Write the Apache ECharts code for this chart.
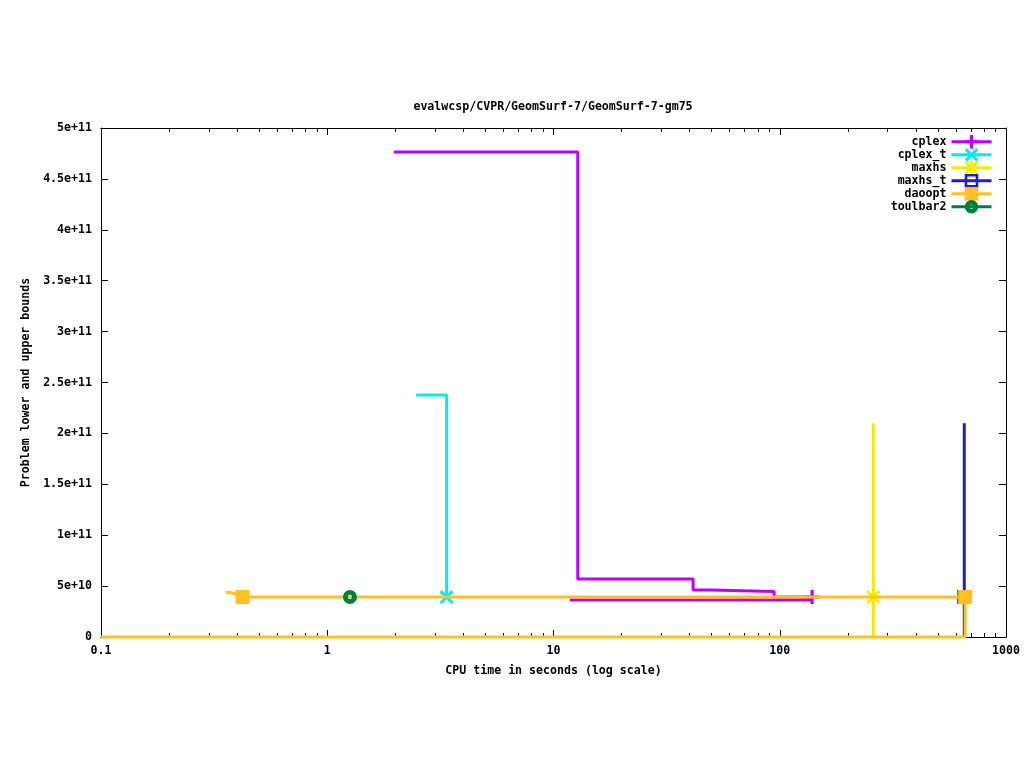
<!DOCTYPE html>
<html>
<head>
<meta charset="utf-8">
<script src="https://cdn.jsdelivr.net/npm/echarts@6/dist/echarts.min.js"></script>
<style>html,body{margin:0;padding:0;background:#fff}#c{width:1024px;height:768px}</style>
</head>
<body>
<div id="c"></div>
<script>
// ---- data (CPU time in seconds, bound value) ----
var cplexUbTime = [1.97, 12.8, 41.4, 50.1, 94.4, 139];
var cplexUbVal  = [4.764e11, 5.70e10, 4.62e10, 4.47e10, 3.93e10, 3.93e10];
var cplexLbTime = [11.8, 139];
var cplexLbVal  = [3.63e10, 3.63e10];
var cplexMarkTime = [139];
var cplexMarkVal  = [3.93e10];

var cplexTUbTime = [2.47, 3.37];
var cplexTUbVal  = [2.377e11, 3.93e10];
var cplexTMarkTime = [3.37];
var cplexTMarkVal  = [3.93e10];

var maxhsUbTime = [259, 259];
var maxhsUbVal  = [2.10e11, 3.93e10];
var maxhsLbTime = [259, 259];
var maxhsLbVal  = [0, 3.93e10];
var maxhsMarkTime = [259];
var maxhsMarkVal  = [3.93e10];

var maxhsTUbTime = [654, 654];
var maxhsTUbVal  = [2.10e11, 3.93e10];
var maxhsTLbTime = [654, 654];
var maxhsTLbVal  = [0, 3.93e10];
var maxhsTMarkTime = [654];
var maxhsTMarkVal  = [3.93e10];

var daooptUbTime = [0.355, 0.37, 0.40, 660];
var daooptUbVal  = [4.37e10, 4.20e10, 3.93e10, 3.93e10];
var daooptLbTime = [0.1, 660];
var daooptLbVal  = [0, 3.93e10];
var daooptMarkTime = [0.422, 660];
var daooptMarkVal  = [3.93e10, 3.93e10];

var toulbar2MarkTime = [1.26];
var toulbar2MarkVal  = [3.93e10];

var xMajorTicks = [0.1, 1, 10, 100, 1000];
var xMinorTicks = [0.2,0.3,0.4,0.5,0.6,0.7,0.8,0.9, 2,3,4,5,6,7,8,9, 20,30,40,50,60,70,80,90, 200,300,400,500,600,700,800,900];

var solverNames = ['cplex', 'cplex_t', 'maxhs', 'maxhs_t', 'daoopt', 'toulbar2'];
var solverColors = ['#c000ff', '#00eeee', '#eeee00', '#2020c0', '#ffc020', '#008040'];

// ---- symbols (gnuplot point types) ----
var SYM = {
  plus: 'path://M5,0H8V5H13V8H8V13H5V8H0V5H5Z',
  cross: 'path://M0,2L2,0L6.5,4.5L11,0L13,2L8.5,6.5L13,11L11,13L6.5,8.5L2,13L0,11L4.5,6.5Z',
  star: 'path://M5.25,0H7.75V5.25H13V7.75H7.75V13H5.25V7.75H0V5.25H5.25Z M0,1.8L1.8,0L6.5,4.7L11.2,0L13,1.8L8.3,6.5L13,11.2L11.2,13L6.5,8.3L1.8,13L0,11.2L4.7,6.5Z',
  box: 'path://M0,0H13V13H0Z M2.5,2.5V10.5H10.5V2.5Z',
  fbox: 'rect',
  ring: 'path://M6.5,0A6.5,6.5,0,1,1,6.5,13A6.5,6.5,0,1,1,6.5,0Z M6.5,4.5A2,2,0,1,0,6.5,8.5A2,2,0,1,0,6.5,4.5Z'
};
var solverSymbols = [SYM.plus, SYM.cross, SYM.star, SYM.box, SYM.fbox, SYM.ring];

function pairs(t, v) { return t.map(function (x, i) { return [x, v[i]]; }); }

var FONT = 'DejaVu Sans Mono';
var FS = 11.6;

function lineSeries(idx, t, v) {
  return {
    type: 'line', name: solverNames[idx], data: pairs(t, v),
    xAxisIndex: 0, yAxisIndex: 0,
    step: 'end', symbol: solverSymbols[idx], symbolSize: 13, showSymbol: false,
    clip: false, silent: true,
    lineStyle: { color: solverColors[idx], width: 3 },
    itemStyle: { color: solverColors[idx] },
    z: 2 + idx
  };
}
function markSeries(idx, t, v) {
  return {
    type: 'scatter', name: solverNames[idx], data: pairs(t, v),
    xAxisIndex: 0, yAxisIndex: 0,
    symbol: solverSymbols[idx], symbolSize: 14, clip: false, silent: true,
    itemStyle: { color: solverColors[idx], opacity: 1 },
    z: 2 + idx
  };
}

var series = [
  lineSeries(0, cplexUbTime, cplexUbVal),
  lineSeries(0, cplexLbTime, cplexLbVal),
  markSeries(0, cplexMarkTime, cplexMarkVal),
  lineSeries(1, cplexTUbTime, cplexTUbVal),
  markSeries(1, cplexTMarkTime, cplexTMarkVal),
  lineSeries(2, maxhsUbTime, maxhsUbVal),
  lineSeries(2, maxhsLbTime, maxhsLbVal),
  markSeries(2, maxhsMarkTime, maxhsMarkVal),
  lineSeries(3, maxhsTUbTime, maxhsTUbVal),
  lineSeries(3, maxhsTLbTime, maxhsTLbVal),
  markSeries(3, maxhsTMarkTime, maxhsTMarkVal),
  lineSeries(4, daooptUbTime, daooptUbVal),
  lineSeries(4, daooptLbTime, daooptLbVal),
  markSeries(4, daooptMarkTime, daooptMarkVal),
  lineSeries(5, toulbar2MarkTime, toulbar2MarkVal),
  markSeries(5, toulbar2MarkTime, toulbar2MarkVal)
];

function xAxisDef(pos, ticks, len, showLabel, showName) {
  return {
    type: 'log', logBase: 10, min: 0.1, max: 1000, position: pos,
    name: showName ? 'CPU time in seconds (log scale)' : '',
    nameLocation: 'middle', nameGap: 28,
    nameTextStyle: { fontFamily: FONT, fontSize: FS, fontWeight: 'bold', color: '#000' },
    axisLine: { show: true, onZero: false, lineStyle: { color: '#000', width: 1 } },
    axisTick: { show: true, inside: true, length: len, customValues: ticks, lineStyle: { color: '#000', width: 1 } },
    axisLabel: { show: showLabel, customValues: xMajorTicks, margin: 8, fontFamily: FONT, fontSize: FS, fontWeight: 'bold', color: '#000',
      formatter: function (v) { return String(+(+v).toPrecision(6)); } },
    splitLine: { show: false }, minorTick: { show: false }
  };
}
function yAxisDef(pos, showLabel, showName) {
  return {
    type: 'value', min: 0, max: 5e11, interval: 5e10, position: pos,
    name: showName ? 'Problem lower and upper bounds' : '',
    nameLocation: 'middle', nameGap: 69, nameRotate: 90,
    nameTextStyle: { fontFamily: FONT, fontSize: FS, fontWeight: 'bold', color: '#000' },
    axisLine: { show: true, onZero: false, lineStyle: { color: '#000', width: 1 } },
    axisTick: { show: true, inside: true, length: 7, lineStyle: { color: '#000', width: 1 } },
    axisLabel: { show: showLabel, margin: 9, fontFamily: FONT, fontSize: FS, fontWeight: 'bold', color: '#000',
      formatter: function (v) { return v === 0 ? '0' : (+v).toExponential(); } },
    splitLine: { show: false }
  };
}

var chart = echarts.init(document.getElementById('c'), null, { renderer: 'canvas' });
chart.setOption({
  animation: false,
  backgroundColor: '#fff',
  title: {
    text: 'evalwcsp/CVPR/GeomSurf-7/GeomSurf-7-gm75',
    left: 553, top: 101, textAlign: 'center', padding: 0,
    textStyle: { fontFamily: FONT, fontSize: FS, fontWeight: 'bold', color: '#000' }
  },
  grid: { left: 101, right: 18, top: 128, bottom: 131, containLabel: false },
  legend: {
    data: solverNames, orient: 'vertical', align: 'right',
    right: 31, top: 135, itemWidth: 40, itemHeight: 17, itemGap: -0.6,
    selectedMode: false, padding: 0,
    lineStyle: { width: 3 },
    textStyle: { fontFamily: FONT, fontSize: FS, fontWeight: 'bold', color: '#000' }
  },
  xAxis: [
    xAxisDef('bottom', xMajorTicks, 7, true, true),
    xAxisDef('bottom', xMinorTicks, 4, false, false),
    xAxisDef('top', xMajorTicks, 7, false, false),
    xAxisDef('top', xMinorTicks, 4, false, false)
  ],
  yAxis: [
    yAxisDef('left', true, true),
    yAxisDef('right', false, false)
  ],
  series: series
});
</script>
</body>
</html>
